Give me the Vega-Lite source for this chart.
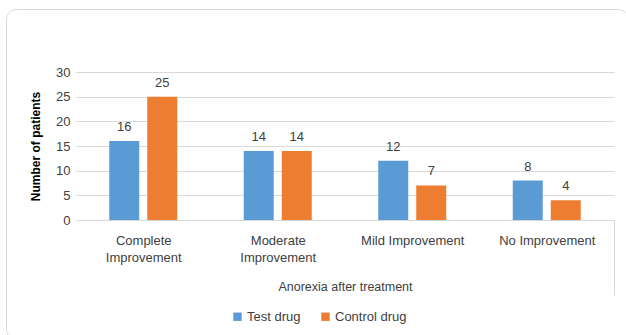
{
  "$schema": "https://vega.github.io/schema/vega-lite/v6.json",
  "width": 622,
  "height": 330,
  "autosize": {"type": "none"},
  "padding": {"left": 6, "top": 9, "right": -2, "bottom": -4},
  "background": "white",
  "data": {
    "values": [
      {"category": "Complete Improvement", "group": "Test drug", "patients": 16},
      {"category": "Complete Improvement", "group": "Control drug", "patients": 25},
      {"category": "Moderate Improvement", "group": "Test drug", "patients": 14},
      {"category": "Moderate Improvement", "group": "Control drug", "patients": 14},
      {"category": "Mild Improvement", "group": "Test drug", "patients": 12},
      {"category": "Mild Improvement", "group": "Control drug", "patients": 7},
      {"category": "No Improvement", "group": "Test drug", "patients": 8},
      {"category": "No Improvement", "group": "Control drug", "patients": 4}
    ]
  },
  "encoding": {
    "x": {
      "field": "category",
      "type": "nominal",
      "sort": ["Complete Improvement", "Moderate Improvement", "Mild Improvement", "No Improvement"],
      "scale": {"paddingInner": 0, "paddingOuter": 0, "range": [70, 608]},
      "axis": {
        "title": "Anorexia after treatment",
        "offset": -119,
        "labelAngle": 0,
        "labelExpr": "datum.value == 'Complete Improvement' ? ['Complete', 'Improvement'] : datum.value == 'Moderate Improvement' ? ['Moderate', 'Improvement'] : datum.label",
        "labelLineHeight": 17,
        "labelFontSize": 13,
        "labelColor": "#404040",
        "labelBaseline": "top",
        "labelPadding": -61,
        "labelOverlap": false,
        "labelLimit": 300,
        "tickBand": "extent",
        "tickSize": 75,
        "tickWidth": 1,
        "tickColor": {"condition": {"test": "datum.index < 0.7", "value": "transparent"}, "value": "#d9d9d9"},
        "domainColor": "#d9d9d9",
        "titleFontSize": 12.5,
        "titleFontWeight": "normal",
        "titleColor": "#404040",
        "titleY": 60,
        "titleBaseline": "top"
      }
    },
    "xOffset": {
      "field": "group",
      "type": "nominal",
      "sort": ["Test drug", "Control drug"],
      "scale": {"paddingInner": 0.2105, "paddingOuter": 0.875}
    },
    "y": {
      "field": "patients",
      "type": "quantitative",
      "scale": {"domain": [0, 30], "range": [211, 63]},
      "axis": {
        "title": "Number of patients",
        "offset": -70,
        "values": [0, 5, 10, 15, 20, 25, 30],
        "domain": false,
        "ticks": false,
        "labelPadding": 6,
        "labelFontSize": 13,
        "labelColor": "#404040",
        "gridColor": "#d9d9d9",
        "titleFontSize": 12,
        "titleFontWeight": "bold",
        "titleColor": "#000000",
        "titlePadding": 13
      }
    }
  },
  "layer": [
    {
      "mark": {"type": "bar"},
      "encoding": {
        "color": {
          "field": "group",
          "type": "nominal",
          "sort": ["Test drug", "Control drug"],
          "scale": {"range": ["#5B9BD5", "#ED7D31"]},
          "legend": {
            "title": null,
            "orient": "none",
            "legendX": 225,
            "legendY": 301,
            "direction": "horizontal",
            "symbolType": "square",
            "symbolSize": 70,
            "symbolStrokeWidth": 0,
            "labelFontSize": 13,
            "labelColor": "#404040",
            "columnPadding": 18,
            "labelOffset": 3,
            "padding": 0
          }
        }
      }
    },
    {
      "mark": {"type": "text", "dy": -14, "fontSize": 13, "color": "#404040", "baseline": "middle"},
      "encoding": {"text": {"field": "patients", "type": "quantitative"}}
    }
  ],
  "config": {
    "view": {"stroke": "#d9d9d9", "strokeWidth": 1, "cornerRadius": 10},
    "font": "Liberation Sans"
  }
}
